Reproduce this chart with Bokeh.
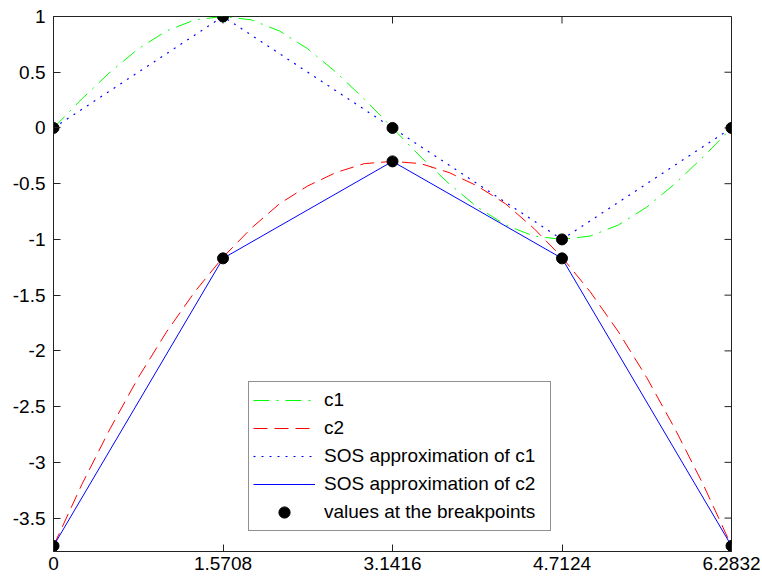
import math
from bokeh.plotting import figure
from bokeh.models import Range1d, FixedTicker, LinearAxis, Legend, LegendItem
from bokeh.embed import file_html
from bokeh.resources import INLINE

x_fine = [0.0, 0.2618, 0.5236, 0.7854, 1.0472, 1.3090, 1.5708, 1.8326, 2.0944,
          2.3562, 2.6180, 2.8798, 3.1416, 3.4034, 3.6652, 3.9270, 4.1888, 4.4506,
          4.7124, 4.9742, 5.2360, 5.4978, 5.7596, 6.0214, 6.2832]
c1 = [0, 0.26, 0.5, 0.71, 0.87, 0.97, 1, 0.97, 0.87, 0.71, 0.5, 0.26, 0,
      -0.26, -0.5, -0.71, -0.87, -0.97, -1, -0.97, -0.87, -0.71, -0.5, -0.26, 0]
c2 = [-3.75, -3.20, -2.70, -2.24, -1.83, -1.47, -1.16, -0.90, -0.68, -0.52, -0.40,
      -0.32, -0.30, -0.32, -0.40, -0.52, -0.68, -0.90, -1.16, -1.47, -1.83, -2.24,
      -2.70, -3.20, -3.75]

# breakpoints
x_bp = [0, 1.5708, 3.1416, 4.7124, 6.2832]
c1_bp = [0, 1, 0, -1, 0]
c2_bp = [-3.75, -1.17, -0.30, -1.17, -3.75]

x_ticks = [0, 1.5708, 3.1416, 4.7124, 6.2832]
x_tick_labels = ["0", "1.5708", "3.1416", "4.7124", "6.2832"]
y_ticks = [-3.5, -3, -2.5, -2, -1.5, -1, -0.5, 0, 0.5, 1]
y_tick_labels = ["-3.5", "-3", "-2.5", "-2", "-1.5", "-1", "-0.5", "0", "0.5", "1"]

x_lim = (0, 6.2832)
y_lim = (-3.8, 1)

FONT = "Liberation Sans"
AXC = "#222222"

p = figure(width=762, height=578, output_backend="svg", toolbar_location=None,
           x_range=Range1d(*x_lim), y_range=Range1d(*y_lim),
           min_border_left=53, min_border_right=31, min_border_top=16,
           min_border_bottom=27, x_axis_location=None, y_axis_location=None)
p.grid.visible = False
p.outline_line_color = AXC
p.outline_line_width = 1
p.background_fill_color = "white"
p.border_fill_color = "white"


def make_axis(ticks, labels, standoff):
    ax = LinearAxis(ticker=FixedTicker(ticks=ticks),
                    major_label_overrides={t: l for t, l in zip(ticks, labels)})
    ax.major_tick_in = 7
    ax.major_tick_out = 0
    ax.minor_tick_line_color = None
    ax.axis_line_color = AXC
    ax.major_tick_line_color = AXC
    ax.major_label_standoff = standoff
    ax.major_label_text_font = FONT
    ax.major_label_text_color = "black"
    ax.major_label_text_font_size = "19px"
    return ax


p.add_layout(make_axis(x_ticks, x_tick_labels, 5), "below")
p.add_layout(make_axis(y_ticks, y_tick_labels, 8), "left")

# inward ticks on the top and right edges of the box (half of each dash is clipped)
p.scatter(x_ticks, [y_lim[1]] * len(x_ticks), marker="dash", size=14,
          angle=math.pi / 2, line_color=AXC, line_width=1)
p.scatter([x_lim[1]] * len(y_ticks), y_ticks, marker="dash", size=14,
          line_color=AXC, line_width=1)

r1 = p.line(x_fine, c1, line_color="#00ff00", line_width=1, line_dash="16 7 2 7")
r2 = p.line(x_fine, c2, line_color="#ff0000", line_width=1, line_dash="14 7")
r3 = p.line(x_bp, c1_bp, line_color="#0000ff", line_width=1.2, line_dash="2 6")
r4 = p.line(x_bp, c2_bp, line_color="#0000ff", line_width=1)
r5 = p.scatter(x_bp + x_bp, c1_bp + c2_bp, size=11, color="black")

legend = Legend(items=[
    LegendItem(label="c1", renderers=[r1]),
    LegendItem(label="c2", renderers=[r2]),
    LegendItem(label="SOS approximation of c1", renderers=[r3]),
    LegendItem(label="SOS approximation of c2", renderers=[r4]),
    LegendItem(label="values at the breakpoints", renderers=[r5]),
], location=(195, 20))
legend.label_text_font = FONT
legend.label_text_font_size = "19px"
legend.label_text_color = "black"
legend.glyph_width = 62
legend.glyph_height = 28
legend.label_height = 28
legend.label_width = 222
legend.label_standoff = 9
legend.spacing = 0
legend.padding = 4
legend.margin = 0
legend.border_line_color = AXC
legend.border_line_width = 1
legend.background_fill_color = "white"
legend.background_fill_alpha = 1
p.add_layout(legend, "center")

open("out.html", "w").write(file_html(p, INLINE))
